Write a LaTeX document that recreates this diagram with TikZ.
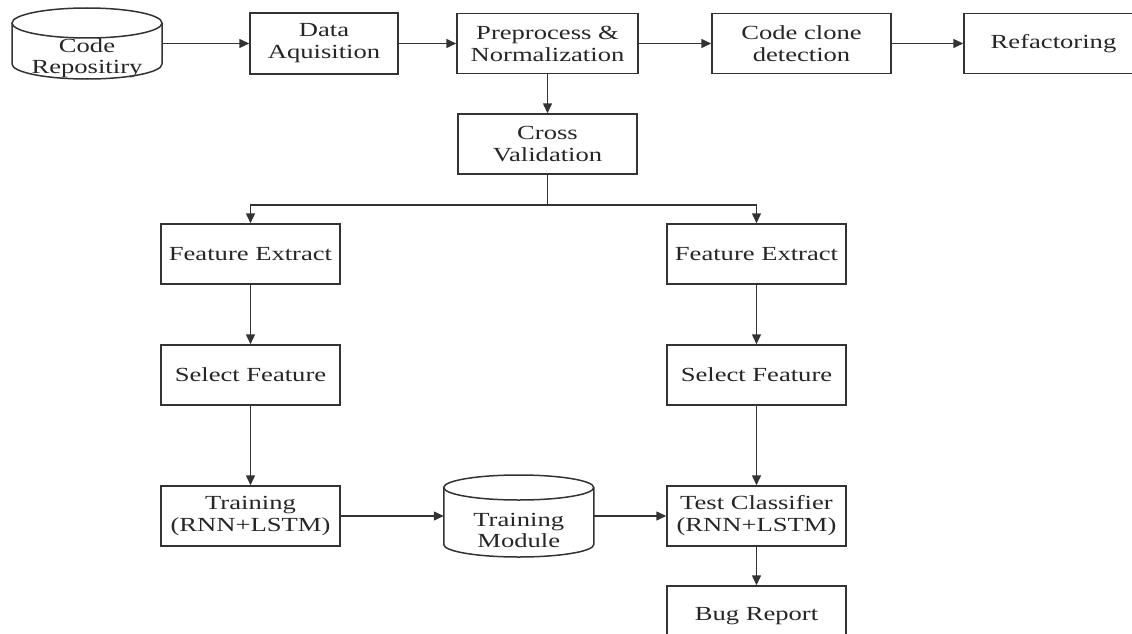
\documentclass[tikz,border=0pt]{standalone}
\usepackage{fontspec}
\setmainfont{Liberation Serif}[FakeStretch=1.33]
\usepackage{tikz}
\usetikzlibrary{positioning, arrows.meta, calc}

\tikzset{
  box/.style={draw=black!80, line width=1.5pt, minimum width=179pt, minimum height=60pt,
    align=center, inner sep=2pt, text=black!85, font=\fontsize{20pt}{22pt}\selectfont},
  drum/.style={minimum width=150pt, inner sep=0pt, outer sep=0pt},
  txt/.style={align=center, inner sep=0pt, text=black!85, font=\fontsize{20pt}{21pt}\selectfont},
  ln/.style={draw=black!80, line width=1.5pt},
  arr/.style={ln, -{Triangle[length=10pt, width=9pt]}}
}

\begin{document}
\begin{tikzpicture}[x=1pt, y=1pt]
\clip (0,0) rectangle (1132,-634);

\node[drum, minimum height=71pt] (repo) at (87,-43.5) {};
\node[txt] (repotxt) at ([yshift=-15]repo.center) {Code\\Repositiry};
\draw[ln] ([yshift=-15]repo.north) ellipse[x radius=75, y radius=15];
\draw[ln] ([yshift=-15]repo.north west) -- ([yshift=15]repo.south west)
  arc[start angle=180, end angle=360, x radius=75, y radius=15] -- ([yshift=-15]repo.north east);

\node[box, minimum width=148pt, minimum height=61pt] (acq) at (324,-43.5) {Data\\Aquisition};
\node[box, minimum width=181pt] (prep) at (547.5,-43.5) {Preprocess \&\\Normalization};
\node[box] (clone) at (801.5,-43.5) {Code clone\\detection};
\node[box] (refac) at (1053.5,-43.5) {Refactoring};
\node[box] (cv) at (547.5,-144) {Cross\\Validation};

\node[box] (fe1) at (250.5,-254) {Feature Extract};
\node[box] (sf1) at (250.5,-375) {Select Feature};
\node[box] (train) at (250.5,-516) {Training\\(RNN+LSTM)};
\node[box] (fe2) at (756.5,-254) {Feature Extract};
\node[box] (sf2) at (756.5,-375) {Select Feature};
\node[box] (test) at (756.5,-516) {Test Classifier\\(RNN+LSTM)};
\node[box] (bug) at (756.5,-616) {Bug Report};

\node[drum, minimum height=82pt, right=103pt of train] (tmod) {};
\node[txt] (tmodtxt) at ([yshift=-14]tmod.center) {Training\\Module};
\draw[ln] ([yshift=-12.5]tmod.north) ellipse[x radius=75, y radius=12.5];
\draw[ln] ([yshift=-12.5]tmod.north west) -- ([yshift=12.5]tmod.south west)
  arc[start angle=180, end angle=360, x radius=75, y radius=12.5] -- ([yshift=-12.5]tmod.north east);

\draw[arr] (repo.east) -- (acq.west);
\draw[arr] (acq) -- (prep);
\draw[arr] (prep) -- (clone);
\draw[arr] (clone) -- (refac);
\draw[arr] (prep) -- (cv);

\coordinate (split) at ([yshift=-30]cv.south);
\draw[ln] (cv) -- (split);
\draw[arr] (split) -| (fe1);
\draw[arr] (split) -| (fe2);

\draw[arr] (fe1) -- (sf1);
\draw[arr] (sf1) -- (train);
\draw[arr] (fe2) -- (sf2);
\draw[arr] (sf2) -- (test);
\draw[arr] (train) -- (tmod.west);
\draw[arr] (tmod.east) -- (test);
\draw[arr] (test) -- (bug);
\end{tikzpicture}
\end{document}
